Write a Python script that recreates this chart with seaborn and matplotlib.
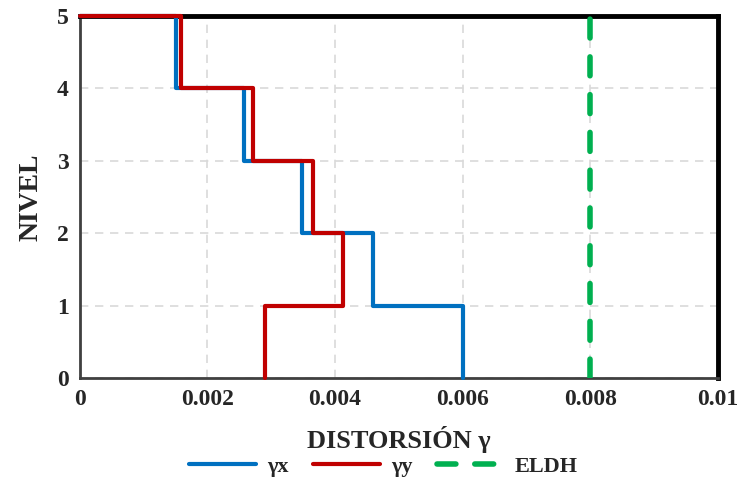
import matplotlib
matplotlib.use('Agg')

import seaborn as sns
import matplotlib.pyplot as plt

# === Data ===
levels = [0, 1, 2, 3, 4, 5]
# story drift per story (story 1..5), closing at 0 on the roof
drift_x = [0.0060, 0.0046, 0.00348, 0.00258, 0.0015]
drift_y = [0.0029, 0.00412, 0.00366, 0.00272, 0.00158]
eldh_limit = 0.008

x_ticks = [0, 0.002, 0.004, 0.006, 0.008, 0.01]
x_ticklabels = ['0', '0.002', '0.004', '0.006', '0.008', '0.01']

# === Style ===
sns.set_style('white')
plt.rcParams['font.family'] = ['Liberation Serif', 'DejaVu Serif']
plt.rcParams['font.weight'] = 'bold'

fig = plt.figure(figsize=(7.4, 4.95), dpi=100)
ax = fig.add_axes([0.108, 0.236, 0.862, 0.732])

sns.lineplot(x=drift_x + [0], y=levels, orient='y', sort=False,
             drawstyle='steps-pre', color='#0070C0', linewidth=3,
             label='γx', ax=ax, zorder=4, clip_on=False)
sns.lineplot(x=drift_y + [0], y=levels, orient='y', sort=False,
             drawstyle='steps-pre', color='#C00000', linewidth=3,
             label='γy', ax=ax, zorder=4, clip_on=False)
sns.lineplot(x=[eldh_limit, eldh_limit], y=[levels[0], levels[-1]],
             orient='y', sort=False, color='#00B050', linewidth=4,
             linestyle=(0, (3.4, 3.4)), dash_capstyle='round',
             label='ELDH', ax=ax, zorder=3)

ax.set_xlim(0, 0.01)
ax.set_ylim(0, 5)
ax.set_xticks(x_ticks)
ax.set_xticklabels(x_ticklabels)
ax.set_yticks(levels)
ax.tick_params(axis='both', labelsize=17, length=0, pad=8)
for lbl in ax.get_xticklabels() + ax.get_yticklabels():
    lbl.set_fontweight('bold')

ax.grid(True, color='#D9D9D9', linestyle=(0, (5, 4)), linewidth=1.2)
ax.set_axisbelow(True)

for side in ['top', 'right']:
    ax.spines[side].set_linewidth(3.5)
    ax.spines[side].set_color('black')
for side in ['left', 'bottom']:
    ax.spines[side].set_linewidth(2)
    ax.spines[side].set_color('#404040')

ax.set_xlabel('DISTORSIÓN γ', fontsize=19, fontweight='bold', labelpad=11)
ax.set_ylabel('NIVEL', fontsize=20, fontweight='bold', labelpad=10)

ax.legend(loc='center', bbox_to_anchor=(0.476, -0.245), ncol=3,
          frameon=False, handlelength=3.0, columnspacing=1.1,
          handletextpad=0.5, prop={'size': 16, 'weight': 'bold'})

plt.savefig('out.png', dpi=100)
plt.close()
